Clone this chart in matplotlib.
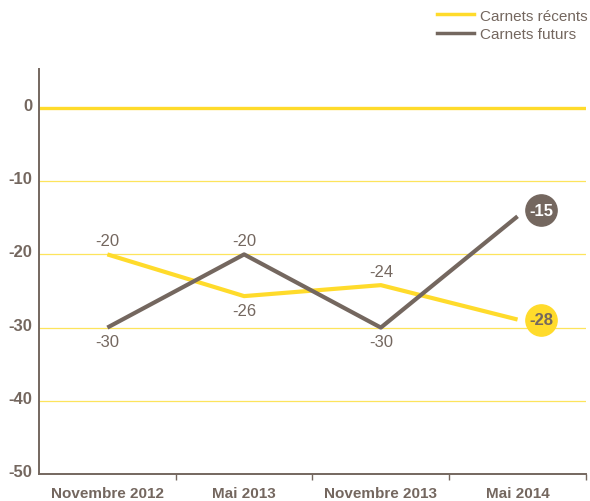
import matplotlib
matplotlib.use("Agg")
import matplotlib.pyplot as plt
from matplotlib.transforms import offset_copy, ScaledTranslation
from matplotlib.lines import Line2D

# data
periods = ["Novembre 2012", "Mai 2013", "Novembre 2013", "Mai 2014"]
recents = [-20, -25.7, -24.2, -28.9]
futurs = [-30, -20, -30, -14.8]
recents_labels = ["-20", "-26", "-24", "-28"]
futurs_labels = ["-30", "-20", "-30", "-15"]
yticks = [0, -10, -20, -30, -40, -50]

YELLOW = "#ffdb2b"
GRID = "#fde45c"
BROWN = "#74675f"

plt.rcParams["font.family"] = ["Liberation Sans", "DejaVu Sans"]

fig = plt.figure(figsize=(5.9, 5.02), dpi=100)
ax = fig.add_axes([0.0661, 0.0538, 0.927, 0.8068])

x = list(range(len(periods)))
ax.set_xlim(-0.5, len(periods) - 0.5)
ax.set_ylim(-50, 5.33)

for v in yticks[1:-1]:
    ax.axhline(v, color=GRID, lw=0.9, zorder=1)
ax.axhline(0, color=YELLOW, lw=2.4, zorder=1)

ax.plot(x, recents, color=YELLOW, lw=3, solid_capstyle="butt", zorder=3)
ax.plot(x, futurs, color=BROWN, lw=3, solid_capstyle="butt", zorder=4)

# point labels (all but last)
above_r = [True, False, True]
for i in range(len(periods) - 1):
    dy = 10 if above_r[i] else -10
    ax.annotate(recents_labels[i], (x[i], recents[i]), xytext=(0, dy),
                textcoords="offset points", ha="center", va="center",
                fontsize=12, color=BROWN)
    ax.annotate(futurs_labels[i], (x[i], futurs[i]), xytext=(0, -dy),
                textcoords="offset points", ha="center", va="center",
                fontsize=12, color=BROWN)

# end bubbles
tr_f = offset_copy(ax.transData, fig=fig, x=17, y=4.5, units="points")
tr_r = offset_copy(ax.transData, fig=fig, x=17, y=0, units="points")
ax.plot(x[-1], futurs[-1], "o", ms=22.5, color=BROWN, transform=tr_f,
        clip_on=False, zorder=5)
ax.text(x[-1], futurs[-1], futurs_labels[-1], transform=tr_f, ha="center",
        va="center", fontsize=12, fontweight="bold", color="white", zorder=6)
ax.plot(x[-1], recents[-1], "o", ms=22.5, color=YELLOW, transform=tr_r,
        clip_on=False, zorder=5)
ax.text(x[-1], recents[-1], recents_labels[-1], transform=tr_r, ha="center",
        va="center", fontsize=12, fontweight="bold", color=BROWN, zorder=6)

# axes styling
for s in ["top", "right"]:
    ax.spines[s].set_visible(False)
for s in ["left", "bottom"]:
    ax.spines[s].set_color(BROWN)
    ax.spines[s].set_linewidth(1.4)

ax.set_yticks(yticks)
ax.set_yticklabels([str(v) for v in yticks])
ax.tick_params(axis="y", length=0, pad=5, labelsize=12, labelcolor=BROWN)
shift_up = ScaledTranslation(0, 4 / 100, fig.dpi_scale_trans)
for t in ax.get_yticklabels():
    t.set_fontweight("bold")
    t.set_transform(t.get_transform() + shift_up)

ax.set_xticks(x)
ax.set_xticklabels(periods, fontweight="bold")
ax.tick_params(axis="x", length=0, pad=9, labelsize=11, labelcolor=BROWN)
ax.set_xticks([i + 0.5 for i in x], minor=True)
ax.tick_params(axis="x", which="minor", length=4, width=1, color=BROWN,
               direction="out")

handles = [Line2D([], [], color=YELLOW, lw=2.5),
           Line2D([], [], color=BROWN, lw=2.5)]
leg = fig.legend(handles, ["Carnets récents", "Carnets futurs"],
                 loc="upper right", bbox_to_anchor=(588 / 590, 0.981),
                 frameon=False, borderpad=0, borderaxespad=0,
                 fontsize=11, handlelength=2.4, handletextpad=0.45,
                 labelspacing=0.3)
for t in leg.get_texts():
    t.set_color(BROWN)

fig.savefig("out.png", dpi=100)
